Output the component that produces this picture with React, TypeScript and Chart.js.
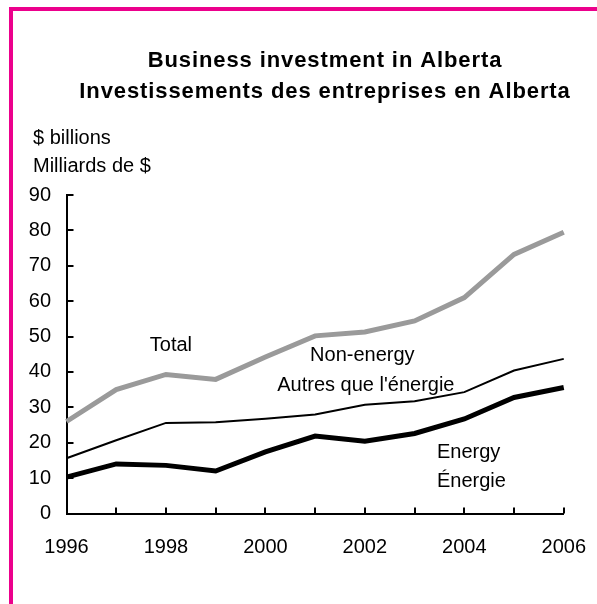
import React, { useEffect, useRef } from "react";
import { Chart, registerables } from "chart.js";

Chart.register(...registerables);

const years = ["1996", "1997", "1998", "1999", "2000", "2001", "2002", "2003", "2004", "2005", "2006"];
const labelledYears = ["1996", "1998", "2000", "2002", "2004", "2006"];
const totalValues = [26, 35, 39.3, 37.9, 44.2, 50.2, 51.3, 54.4, 61, 73.2, 79.5];
const nonEnergyValues = [15.6, 20.7, 25.6, 25.8, 26.8, 28, 30.7, 31.7, 34.3, 40.4, 43.7];
const energyValues = [10.3, 14, 13.6, 12, 17.4, 21.9, 20.4, 22.6, 26.7, 32.8, 35.6];
const yMin = 0;
const yMax = 90;
const yStep = 10;
const titleLines = ["Business investment in Alberta", "Investissements des entreprises en Alberta"];
const unitLines = ["$ billions", "Milliards de $"];
const totalLabel = ["Total"];
const nonEnergyLabel = ["Non-energy", "Autres que l'énergie"];
const energyLabel = ["Energy", "Énergie"];

const FONT = '"Liberation Sans", Arial, Helvetica, sans-serif';

const decorPlugin = {
  id: "decor",
  afterDraw(chart: any) {
    const { ctx, chartArea } = chart;
    const x = chart.scales.x;
    const y = chart.scales.y;
    ctx.save();
    // inward tick marks
    ctx.strokeStyle = "#000";
    ctx.lineWidth = 2;
    ctx.beginPath();
    y.ticks.forEach((t: any) => {
      const py = Math.round(y.getPixelForValue(t.value));
      ctx.moveTo(chartArea.left, py);
      ctx.lineTo(chartArea.left + 7, py);
    });
    x.ticks.forEach((t: any) => {
      const px = Math.round(x.getPixelForValue(t.value));
      ctx.moveTo(px, chartArea.bottom);
      ctx.lineTo(px, chartArea.bottom - 6);
    });
    ctx.stroke();

    // title
    ctx.fillStyle = "#000";
    ctx.textBaseline = "alphabetic";
    ctx.textAlign = "center";
    ctx.font = `bold 22px ${FONT}`;
    (ctx as any).letterSpacing = "0.9px";
    ctx.fillText(titleLines[0], 325, 66.5);
    ctx.fillText(titleLines[1], 325, 98);
    (ctx as any).letterSpacing = "0px";

    // units
    ctx.font = `20px ${FONT}`;
    ctx.textAlign = "left";
    ctx.fillText(unitLines[0], 33, 144);
    ctx.fillText(unitLines[1], 33, 171.5);

    // series labels, placed through the scales
    ctx.textAlign = "center";
    ctx.fillText(totalLabel[0], x.getPixelForValue(2.1), y.getPixelForValue(45.9));
    ctx.fillText(nonEnergyLabel[0], x.getPixelForValue(5.95), y.getPixelForValue(43.2));
    ctx.fillText(nonEnergyLabel[1], x.getPixelForValue(6.02), y.getPixelForValue(34.6));
    ctx.textAlign = "left";
    ctx.fillText(energyLabel[0], x.getPixelForValue(7.45), y.getPixelForValue(15.7));
    ctx.fillText(energyLabel[1], x.getPixelForValue(7.45), y.getPixelForValue(7.6));
    ctx.restore();
  },
};

export default function App() {
  const canvasRef = useRef<HTMLCanvasElement | null>(null);

  useEffect(() => {
    if (!canvasRef.current) return;
    Chart.defaults.font.family = FONT;
    const chart = new Chart(canvasRef.current, {
      type: "line",
      data: {
        labels: years,
        datasets: [
          {
            label: "Total",
            data: totalValues,
            borderColor: "#9a9a9a",
            borderWidth: 5,
            pointRadius: 0,
            tension: 0,
            fill: false,
          },
          {
            label: "Non-energy",
            data: nonEnergyValues,
            borderColor: "#000",
            borderWidth: 2,
            pointRadius: 0,
            tension: 0,
            fill: false,
          },
          {
            label: "Energy",
            data: energyValues,
            borderColor: "#000",
            borderWidth: 5,
            pointRadius: 0,
            tension: 0,
            fill: false,
          },
        ],
      },
      options: {
        animation: false,
        responsive: true,
        maintainAspectRatio: false,
        layout: { padding: { top: 195, right: 0, bottom: 0, left: 0 } },
        plugins: {
          legend: { display: false },
          title: { display: false },
          tooltip: { enabled: false },
        },
        scales: {
          x: {
            type: "category",
            offset: false,
            grid: { display: false, drawTicks: false },
            border: { display: true, color: "#000", width: 2 },
            ticks: {
              autoSkip: false,
              maxRotation: 0,
              padding: 22,
              color: "#000",
              font: { size: 20, family: FONT },
              callback: (_v: any, i: number) =>
                labelledYears.includes(years[i]) ? years[i] : "",
            },
            afterFit: (scale: any) => {
              scale.height = 90.5;
            },
          },
          y: {
            min: yMin,
            max: yMax,
            grid: { display: false, drawTicks: false },
            border: { display: true, color: "#000", width: 2 },
            ticks: {
              stepSize: yStep,
              padding: 15.5,
              color: "#000",
              font: { size: 20, family: FONT },
            },
            afterFit: (scale: any) => {
              scale.width = 66.5;
            },
          },
        },
      },
      plugins: [decorPlugin],
    });
    return () => chart.destroy();
  }, []);

  return (
    <div
      style={{
        position: "fixed",
        left: 0,
        top: 0,
        width: 597,
        height: 604,
        background: "#fff",
        overflow: "hidden",
      }}
    >
      <div
        style={{
          position: "absolute",
          left: 9,
          top: 7,
          width: 588 - 4,
          height: 597 - 4,
          borderTop: "4px solid #EC008C",
          borderLeft: "4px solid #EC008C",
        }}
      />
      <div style={{ position: "absolute", left: 0, top: 0, width: 608, height: 604 }}>
        <canvas ref={canvasRef} />
      </div>
    </div>
  );
}
